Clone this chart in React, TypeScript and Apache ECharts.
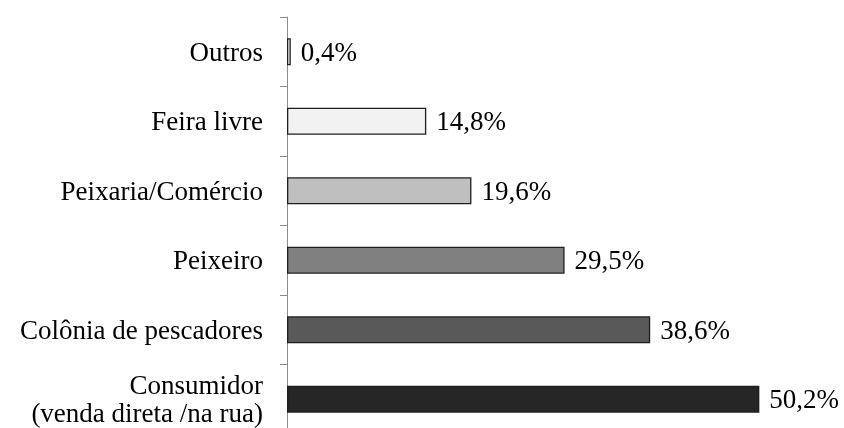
import React, { useEffect, useRef } from "react";
import * as echarts from "echarts";

const categories = [
  "Consumidor\n(venda direta /na rua)",
  "Colônia de pescadores",
  "Peixeiro",
  "Peixaria/Comércio",
  "Feira livre",
  "Outros",
];
const values = [50.2, 38.6, 29.5, 19.6, 14.8, 0.4];
const barColors = ["#262626", "#595959", "#808080", "#bfbfbf", "#f2f2f2", "#ffffff"];

const FONT = "Liberation Serif";

const fmt = (v: number) => v.toFixed(1).replace(".", ",") + "%";

export default function App() {
  const ref = useRef<HTMLDivElement>(null);
  useEffect(() => {
    if (!ref.current) return;
    const chart = echarts.init(ref.current, null, { renderer: "svg" });
    chart.setOption({
      animation: false,
      grid: { left: 287, top: 17, width: 517.5, height: 417, outerBoundsMode: "none" },
      xAxis: { type: "value", min: 0, max: 55, show: false },
      yAxis: {
        type: "category",
        data: categories,
        axisLine: { show: true, lineStyle: { color: "#8c8c8c", width: 1 } },
        axisTick: { show: true, length: 7, lineStyle: { color: "#8c8c8c", width: 1 } },
        axisLabel: {
          fontFamily: FONT,
          fontSize: 27,
          lineHeight: 28,
          color: "#000",
          margin: 24,
        },
        splitLine: { show: false },
      },
      series: [
        {
          type: "bar",
          barWidth: 27,
          data: values.map((v, i) => ({
            value: v,
            itemStyle: { color: barColors[i], borderColor: "#1e1e1e", borderWidth: 1.3 },
            label: { formatter: fmt(v) },
          })),
          label: {
            show: true,
            position: "right",
            distance: 10,
            fontFamily: FONT,
            fontSize: 27,
            color: "#000",
          },
        },
      ],
    });
    return () => chart.dispose();
  }, []);
  return <div ref={ref} style={{ position: "fixed", left: 0, top: 0, width: 844, height: 428 }} />;
}
